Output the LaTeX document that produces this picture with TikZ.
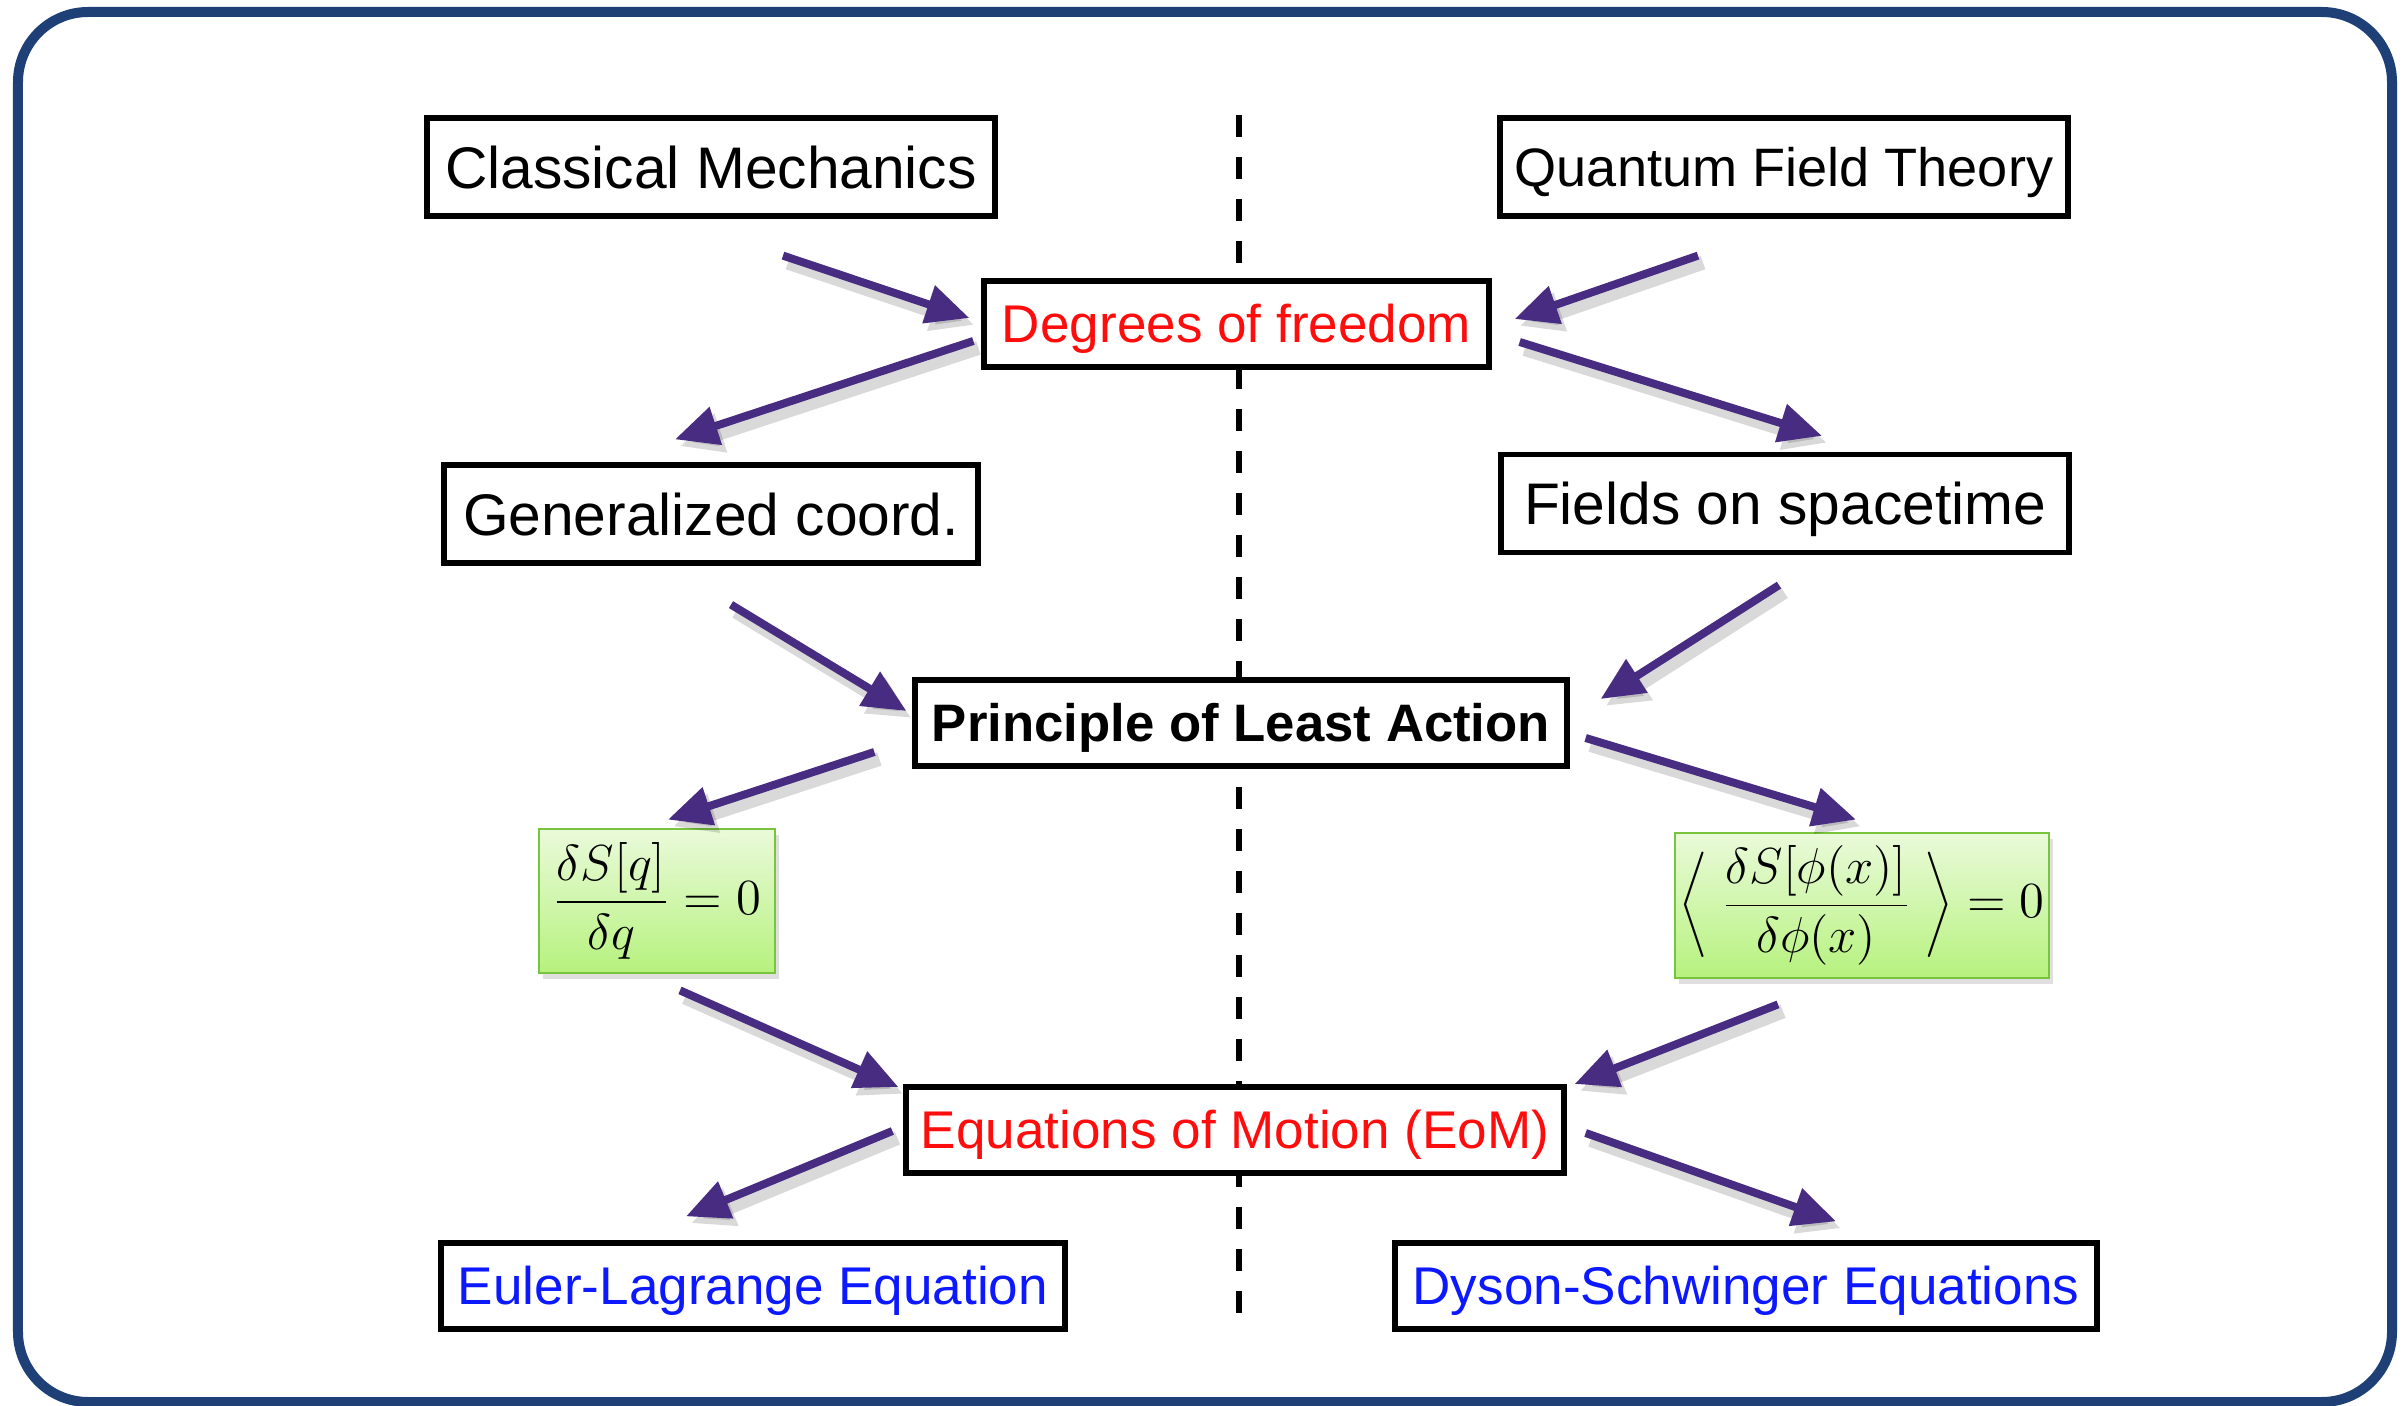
\documentclass[tikz,border=0pt]{standalone}
\usepackage[no-math]{fontspec}
\setmainfont{Liberation Sans}
\usetikzlibrary{arrows.meta,shadows}
\definecolor{borderblue}{RGB}{31,64,118}
\definecolor{arrowpurple}{RGB}{72,44,130}
\definecolor{keyred}{RGB}{255,12,12}
\definecolor{eqblue}{RGB}{12,24,255}
\definecolor{eqline}{RGB}{120,196,60}
\definecolor{eqtop}{RGB}{234,250,218}
\definecolor{eqbot}{RGB}{182,242,126}

\begin{document}
\begin{tikzpicture}[
    box/.style={draw=black, fill=white, line width=1.5pt, inner sep=0pt,
                minimum height=0.86cm, text height=10.8pt, text depth=0pt,
                font=\fontsize{15.1}{18}\selectfont},
    big/.style={box, minimum height=0.98cm, text height=12pt,
                font=\fontsize{16.7}{20}\selectfont},
    eqbox/.style={draw=eqline, line width=0.8pt, top color=eqtop, bottom color=eqbot,
                  inner sep=0pt, font=\fontsize{14.3}{17}\selectfont,
                  drop shadow={opacity=0.25, shadow xshift=0.04cm, shadow yshift=-0.06cm}},
    arr/.style={-{Triangle[length=0.43cm, width=0.38cm]}, draw=arrowpurple,
                line width=0.08cm,
                preaction={draw=black, opacity=0.15, line width=0.14cm,
                           transform canvas={shift={(0.05,-0.07)}}}},
    divider/.style={black, line width=1.9pt, dash pattern=on 0.22cm off 0.20cm}]
  \useasboundingbox (0,0) rectangle (24.07,14.05);

  % ---------- frame and divider ----------------------------------------------
  \draw[borderblue, line width=0.1cm, rounded corners=0.7cm]
    (0.18,0.03) rectangle (23.92,13.93);
  \coordinate (divtop) at (12.39,12.90);
  \coordinate (divbot) at (12.39,0.77);
  \draw[divider] (divtop) -- (divbot);

  % ---------- boxes --------------------------------------------------------
  \node[big, minimum width=5.68cm] (cm)  at (7.11,12.38)  {Classical Mechanics};
  \node[big, minimum width=5.68cm, text height=11.1pt, font=\fontsize{15.4}{18}\selectfont]
                                   (qft) at (17.84,12.38) {Quantum Field Theory};
  \node[box, minimum width=5.05cm, text=keyred] (dof) at (12.365,10.81) {Degrees of freedom};
  \node[big, minimum width=5.34cm] (gen) at (7.11,8.91)   {Generalized coord.};
  \node[big, minimum width=5.68cm] (fld) at (17.85,9.015) {Fields on spacetime};
  \node[box, minimum width=6.52cm, font=\fontsize{15}{18}\selectfont\bfseries]
                                   (pla) at (12.41,6.82)  {Principle of Least Action};
  \node[eqbox, minimum width=2.36cm, minimum height=1.44cm] (gl) at (6.57,5.04)
    {$\displaystyle\frac{\delta S[q]}{\delta q}=0$};
  \node[eqbox, minimum width=3.74cm, minimum height=1.45cm] (gr) at (18.62,4.995)
    {$\displaystyle\left\langle\;\frac{\delta S[\phi(x)]}{\delta\phi(x)}\;\right\rangle=0$};
  \node[box, minimum width=6.58cm, text=keyred] (eom) at (12.35,2.75) {Equations of Motion (EoM)};
  \node[box, minimum width=6.24cm, text=eqblue] (el)  at (7.53,1.19)  {Euler-Lagrange Equation};
  \node[box, minimum width=7.02cm, text=eqblue] (ds)  at (17.46,1.19) {Dyson-Schwinger Equations};

  % ---------- arrows ---------------------------------------------------------
  \draw[arr] ([shift={(0.72,-0.37)}]cm.south)  -- ([shift={(-0.12,0.06)}]dof.west);
  \draw[arr] ([shift={(-0.08,-0.17)}]dof.west) -- ([shift={(-0.36,0.23)}]gen.north);
  \draw[arr] ([shift={(-0.86,-0.37)}]qft.south) -- ([shift={(0.23,0.05)}]dof.east);
  \draw[arr] ([shift={(0.28,-0.18)}]dof.east)  -- ([shift={(0.37,0.16)}]fld.north);
  \draw[arr] ([shift={(0.20,-0.39)}]gen.south) -- ([shift={(-0.06,0.12)}]pla.west);
  \draw[arr] ([shift={(-0.06,-0.30)}]fld.south) -- ([shift={(0.31,0.24)}]pla.east);
  \draw[arr] ([shift={(-0.38,-0.29)}]pla.west) -- ([shift={(0.11,0.08)}]gl.north);
  \draw[arr] ([shift={(0.16,-0.15)}]pla.east)  -- ([shift={(-0.06,0.12)}]gr.north);
  \draw[arr] ([shift={(0.23,-0.16)}]gl.south)  -- ([shift={(-0.05,0.43)}]eom.west);
  \draw[arr] ([shift={(-0.84,-0.25)}]gr.south) -- ([shift={(0.08,0.46)}]eom.east);
  \draw[arr] ([shift={(-0.11,-0.01)}]eom.west) -- ([shift={(-0.67,0.24)}]el.north);
  \draw[arr] ([shift={(0.19,-0.03)}]eom.east)  -- ([shift={(0.90,0.19)}]ds.north);
\end{tikzpicture}
\end{document}
